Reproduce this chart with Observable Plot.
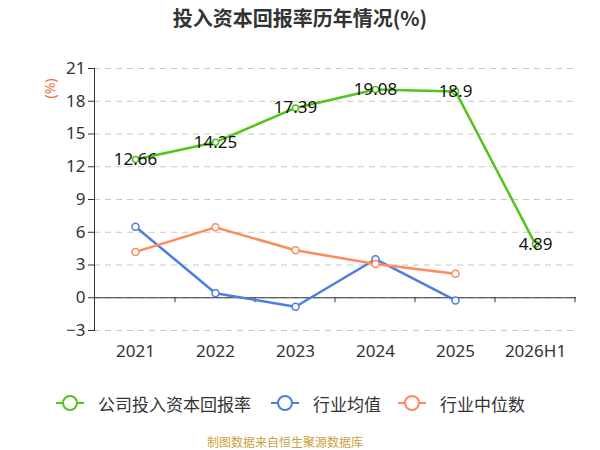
<!DOCTYPE html>
<html>
<head>
<meta charset="utf-8">
<script src="https://cdn.jsdelivr.net/npm/d3@7"></script>
<script src="https://cdn.jsdelivr.net/npm/@observablehq/plot@0.6"></script>
<style>
  body { margin:0; width:600px; height:450px; overflow:hidden; background:#fff; font-family:"Noto Sans CJK SC","Noto Sans",sans-serif; position:relative; }
  #title { position:absolute; top:3px; left:0; width:600px; text-align:center; font-size:20px; font-weight:bold; color:#333; }
  #chart { position:absolute; top:36px; left:0; }
  #legend { position:absolute; top:391px; left:0; width:600px; height:24px; }
  .item { position:absolute; top:0; display:flex; align-items:center; font-size:17px; color:#333; height:24px; }
  .item svg { margin-right:14px; }
  #caption { position:absolute; top:433px; left:207px; font-size:12px; color:#c9a13f; }
</style>
</head>
<body>
<div id="title">投入资本回报率历年情况(%)</div>
<div id="chart"></div>
<div id="legend"></div>
<div id="caption">制图数据来自恒生聚源数据库</div>
<script>
const years = ["2021","2022","2023","2024","2025","2026H1"];
const companyROIC = [12.66, 14.25, 17.39, 19.08, 18.9, 4.89];
const industryMeanYears = ["2021","2022","2023","2024","2025"];
const industryMean = [6.5, 0.42, -0.82, 3.53, -0.25];
const industryMedian = [4.2, 6.45, 4.35, 3.1, 2.2];
const yTicks = [-3, 0, 3, 6, 9, 12, 15, 18, 21];
const seriesNames = ["公司投入资本回报率", "行业均值", "行业中位数"];
const colors = ["#52c41a", "#4a7fe0", "#ff8a5b"];

const company = years.map((y, i) => ({year: y, value: companyROIC[i]}));
const mean = industryMeanYears.map((y, i) => ({year: y, value: industryMean[i]}));
const median = industryMeanYears.map((y, i) => ({year: y, value: industryMedian[i]}));

const fontFam = '"Noto Sans","Noto Sans CJK SC",sans-serif';

// tick marks at band boundaries on the x-axis (at y=0)
function bandTicks(index, scales, values, dims) {
  const g = d3.create("svg:g");
  const x = scales.x, y = scales.y;
  const bw = x.bandwidth();
  const y0 = y(0);
  years.forEach(c => {
    const px = x(c) + bw;
    g.append("line").attr("x1", px).attr("x2", px).attr("y1", y0).attr("y2", y0 + 5)
      .attr("stroke", "#333").attr("stroke-width", 1);
  });
  return g.node();
}

const chart = Plot.plot({
  width: 600,
  height: 340,
  marginLeft: 94,
  marginRight: 24,
  marginTop: 32,
  marginBottom: 46,
  style: {fontFamily: fontFam, fontSize: "17px", color: "#333", background: "transparent"},
  x: {type: "band", domain: years, padding: 0},
  y: {domain: [-3, 21], ticks: yTicks},
  marks: [
    Plot.gridY(yTicks, {stroke: "#c8c8c8", strokeOpacity: 1, strokeDasharray: "6,5"}),
    Plot.axisY(yTicks, {tickSize: 6, tickPadding: 3, stroke: "#333", fill: "#333", fontSize: 17, label: null}),
    Plot.frame({anchor: "left", stroke: "#333"}),
    Plot.axisX({tickSize: 0, tickPadding: 14, fill: "#333", fontSize: 17, label: null}),
    Plot.ruleY([0], {stroke: "#333", strokeWidth: 1}),
    bandTicks,
    Plot.text(["(%)"], {frameAnchor: "top-left", dx: -49, dy: 30, rotate: -90, fill: "#e8703a", fontSize: 14}),
    Plot.line(mean, {x: "year", y: "value", stroke: colors[1], strokeWidth: 2.5}),
    Plot.dot(mean, {x: "year", y: "value", r: 3.5, fill: "#fff", stroke: colors[1], strokeWidth: 1.5}),
    Plot.line(median, {x: "year", y: "value", stroke: colors[2], strokeWidth: 2.5}),
    Plot.dot(median, {x: "year", y: "value", r: 3.5, fill: "#fff", stroke: colors[2], strokeWidth: 1.5}),
    Plot.line(company, {x: "year", y: "value", stroke: colors[0], strokeWidth: 2.5}),
    Plot.dot(company, {x: "year", y: "value", r: 3, fill: "#fff", stroke: colors[0], strokeWidth: 1.5}),
    Plot.text(company, {x: "year", y: "value", text: d => String(d.value), fill: "#111", fontSize: 17})
  ]
});
document.getElementById("chart").appendChild(chart);

// legend
const legend = document.getElementById("legend");
const lefts = [56, 271, 398];
seriesNames.forEach((name, i) => {
  const item = document.createElement("div");
  item.className = "item";
  item.style.left = lefts[i] + "px";
  item.innerHTML = `<svg width="28" height="24"><line x1="0" x2="28" y1="12" y2="12" stroke="${colors[i]}" stroke-width="2"/><circle cx="14" cy="12" r="7" fill="#fff" stroke="${colors[i]}" stroke-width="2"/></svg><span>${name}</span>`;
  legend.appendChild(item);
});
</script>
</body>
</html>
